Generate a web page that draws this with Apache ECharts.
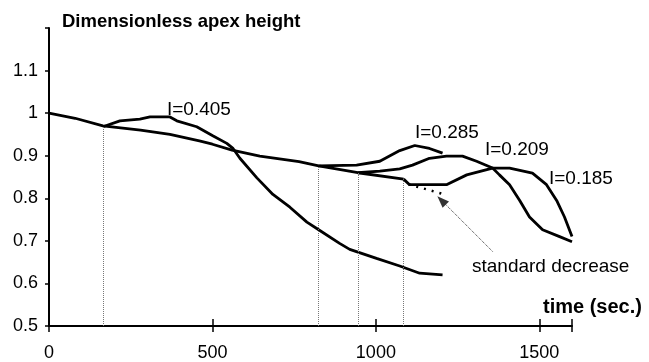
<!DOCTYPE html>
<html>
<head>
<meta charset="utf-8">
<script src="https://cdn.jsdelivr.net/npm/echarts@6/dist/echarts.min.js"></script>
<style>
  html, body { margin: 0; padding: 0; background: #fff; }
  #chart { width: 649px; height: 362px; }
</style>
</head>
<body>
<div id="chart"></div>
<script>
// time (sec.) / dimensionless apex height
var stdTime   = [0, 80, 165, 280, 370, 460, 500, 560, 645, 765, 825, 945, 1085];
var stdHeight = [1.0, 0.988, 0.970, 0.960, 0.950, 0.935, 0.927, 0.913, 0.899, 0.886, 0.876, 0.860, 0.845];

var stdDotTime   = [1100, 1210];
var stdDotHeight = [0.833, 0.809];

var i405Time   = [165, 217, 278, 309, 370, 391, 452, 501, 544, 562, 584, 636, 685, 737, 789, 825, 889, 920, 1002, 1073, 1134, 1204];
var i405Height = [0.968, 0.982, 0.986, 0.991, 0.991, 0.982, 0.968, 0.947, 0.929, 0.918, 0.894, 0.848, 0.809, 0.779, 0.744, 0.726, 0.694, 0.680, 0.659, 0.641, 0.624, 0.620];

var i285Time   = [825, 941, 1012, 1073, 1119, 1164, 1204];
var i285Height = [0.876, 0.878, 0.887, 0.912, 0.924, 0.917, 0.906];

var i209Time   = [945, 1012, 1073, 1112, 1164, 1216, 1265, 1308, 1357, 1378, 1409, 1440, 1470, 1510, 1562, 1600];
var i209Height = [0.860, 0.864, 0.869, 0.878, 0.894, 0.899, 0.899, 0.887, 0.871, 0.855, 0.832, 0.795, 0.756, 0.726, 0.710, 0.698];

var i185Time   = [1085, 1103, 1216, 1278, 1357, 1409, 1479, 1522, 1553, 1577, 1600];
var i185Height = [0.845, 0.832, 0.832, 0.855, 0.871, 0.871, 0.859, 0.832, 0.795, 0.756, 0.710];

// dotted drop lines from where each curve leaves the standard decrease
var dropTime   = [165, 825, 945, 1085];
var dropHeight = [0.968, 0.876, 0.860, 0.845];

// arrow from the "standard decrease" note to the dotted line
var arrowFrom = [1357, 0.675];
var arrowTo   = [1201, 0.795];

var xTicks = [0, 500, 1000, 1500];
var yTicks = [0.5, 0.6, 0.7, 0.8, 0.9, 1, 1.1];

function pairs(xs, ys) {
  return xs.map(function (x, i) { return [x, ys[i]]; });
}

var font = 'Liberation Sans, Arial, sans-serif';
var chart = echarts.init(document.getElementById('chart'));

function curve(name, xs, ys, extra) {
  var s = {
    name: name,
    type: 'line',
    data: pairs(xs, ys),
    showSymbol: false,
    lineStyle: { color: '#000', width: 2.8 },
    itemStyle: { color: '#000' },
    silent: true
  };
  return Object.assign(s, extra || {});
}

function note(text, left, top, size, bold) {
  return {
    type: 'text', left: left, top: top,
    style: { text: text, fontFamily: font, fontSize: size, fontWeight: bold ? 'bold' : 'normal', fill: '#000' }
  };
}

chart.setOption({
  animation: false,
  backgroundColor: '#fff',
  grid: { left: 49, right: 77, top: 28, bottom: 31 },
  xAxis: [
    {
      type: 'value', min: 0, max: 1600, interval: 500, position: 'bottom',
      axisLine: { lineStyle: { color: '#000', width: 2 } },
      axisTick: { length: 6, lineStyle: { color: '#000', width: 1.5 } },
      splitLine: { show: false },
      axisLabel: {
        color: '#000', fontFamily: font, fontSize: 18, margin: 18,
        formatter: function (v) { return xTicks.indexOf(v) >= 0 ? String(v) : ''; }
      }
    },
    {
      // same scale again, only to draw the tick marks above the axis line
      type: 'value', min: 0, max: 1600, interval: 500, position: 'bottom', offset: 0,
      axisLine: { show: false },
      axisTick: { inside: true, length: 7, lineStyle: { color: '#000', width: 1.5 } },
      axisLabel: { show: false },
      splitLine: { show: false }
    }
  ],
  yAxis: {
    type: 'value', min: 0.5, max: 1.2, interval: 0.1,
    axisLine: { show: true, lineStyle: { color: '#000', width: 2 } },
    axisTick: { show: true, length: 4, lineStyle: { color: '#000', width: 1.5 } },
    splitLine: { show: false },
    axisLabel: {
      color: '#000', fontFamily: font, fontSize: 18, margin: 11,
      formatter: function (v) {
        var r = Math.round(v * 10) / 10;
        return yTicks.indexOf(r) >= 0 ? String(r) : '';
      }
    }
  },
  series: [
    curve('standard', stdTime, stdHeight, {
      markLine: {
        silent: true,
        symbol: ['none', 'none'],
        label: { show: false },
        lineStyle: { color: '#777', width: 1, type: 'dotted' },
        data: dropTime.map(function (t, i) {
          return [{ coord: [t, 0.5] }, { coord: [t, dropHeight[i]] }];
        })
      }
    }),
    curve('standard dotted', stdDotTime, stdDotHeight, {
      lineStyle: { color: '#000', width: 2.5, type: [2, 6] },
      markLine: {
        silent: true,
        symbol: ['none', 'triangle'],
        symbolSize: [9, 12],
        label: { show: false },
        lineStyle: { color: '#333', width: 1, type: 'dotted' },
        data: [[{ coord: arrowFrom }, { coord: arrowTo }]]
      }
    }),
    curve('I=0.405', i405Time, i405Height),
    curve('I=0.285', i285Time, i285Height),
    curve('I=0.209', i209Time, i209Height),
    curve('I=0.185', i185Time, i185Height)
  ],
  graphic: [
    note('Dimensionless apex height', 62, 12, 18.5, true),
    note('time (sec.)', 543, 297, 20, true),
    note('I=0.405', 167, 100, 19),
    note('I=0.285', 415, 123, 19),
    note('I=0.209', 485, 140, 19),
    note('I=0.185', 549, 169, 19),
    note('standard decrease', 472, 257, 19)
  ]
});
</script>
</body>
</html>
